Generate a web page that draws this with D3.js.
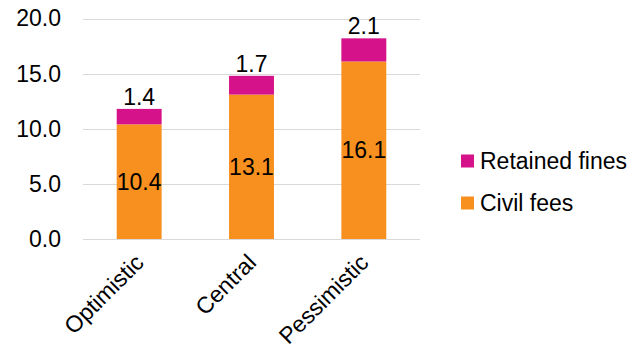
<!DOCTYPE html>
<html><head><meta charset="utf-8">
<script src="https://cdn.jsdelivr.net/npm/d3@7"></script>
<style>body{margin:0;background:#fff}svg{display:block}text{font-family:"Liberation Sans",Arial,sans-serif;fill:#000}</style>
</head><body>
<svg id="c" width="644" height="351"></svg>
<script>
const categories = ["Optimistic", "Central", "Pessimistic"];
const civilFees = [10.4, 13.1, 16.1];
const retainedFines = [1.4, 1.7, 2.1];
const seriesNames = ["Civil fees", "Retained fines"];
const seriesColors = ["#F7901E", "#D6128B"];
const yTicks = [0, 5, 10, 15, 20];

const FS = 23;
const svg = d3.select("#c");
const x = d3.scaleBand().domain(categories).range([83, 420]).paddingInner(0.6).paddingOuter(0.3);
const y = d3.scaleLinear().domain([0, 20]).range([239, 18.5]);

const rows = categories.map((c, i) => ({cat: c, "Civil fees": civilFees[i], "Retained fines": retainedFines[i]}));
const stacked = d3.stack().keys(seriesNames)(rows);

// gridlines
svg.append("g").selectAll("line").data(yTicks).join("line")
  .attr("x1", 83).attr("x2", 420)
  .attr("y1", d => Math.round(y(d)) + 0.5).attr("y2", d => Math.round(y(d)) + 0.5)
  .attr("stroke", "#D9D9D9").attr("stroke-width", 1);

// y axis labels
const yAxis = d3.axisLeft(y).tickValues(yTicks).tickFormat(d3.format(".1f")).tickSize(0).tickPadding(22);
const ya = svg.append("g").attr("transform", "translate(83,0)").call(yAxis);
ya.select(".domain").remove();
ya.selectAll("text").attr("font-size", FS).attr("font-family", "Liberation Sans, Arial, sans-serif").attr("fill", "#000");

// bars
stacked.forEach((s, si) => {
  svg.append("g").selectAll("rect").data(s).join("rect")
    .attr("x", d => x(d.data.cat)).attr("width", x.bandwidth())
    .attr("y", d => y(d[1])).attr("height", d => y(d[0]) - y(d[1]))
    .attr("fill", seriesColors[si]);
});

// labels: civil fees centered
svg.append("g").selectAll("text").data(stacked[0]).join("text")
  .attr("x", d => x(d.data.cat) + x.bandwidth() / 2)
  .attr("y", d => (y(d[0]) + y(d[1])) / 2 + 8)
  .attr("text-anchor", "middle").attr("font-size", FS)
  .text(d => d3.format(".1f")(d[1] - d[0]));

// labels: retained fines above
svg.append("g").selectAll("text").data(stacked[1]).join("text")
  .attr("x", d => x(d.data.cat) + x.bandwidth() / 2)
  .attr("y", d => y(d[1]) - 4)
  .attr("text-anchor", "middle").attr("font-size", FS)
  .text(d => d3.format(".1f")(d[1] - d[0]));

// x axis labels
const xAxis = d3.axisBottom(x).tickSize(0).tickPadding(0);
const xa = svg.append("g").attr("transform", "translate(0,239)").call(xAxis);
xa.select(".domain").remove();
xa.selectAll("text").attr("font-size", FS).attr("font-family", "Liberation Sans, Arial, sans-serif").attr("fill", "#000")
  .attr("text-anchor", "end").attr("dy", null).attr("y", 0)
  .attr("transform", "translate(6,25) rotate(-45)");

// legend
const legend = svg.append("g");
const legItems = [{name: "Retained fines", color: seriesColors[1], cy: 161}, {name: "Civil fees", color: seriesColors[0], cy: 203}];
legItems.forEach(it => {
  legend.append("rect").attr("x", 461).attr("y", it.cy - 6.5).attr("width", 13).attr("height", 13).attr("fill", it.color);
  legend.append("text").attr("x", 480).attr("y", it.cy + 8).attr("font-size", FS).text(it.name);
});
</script>
</body></html>
